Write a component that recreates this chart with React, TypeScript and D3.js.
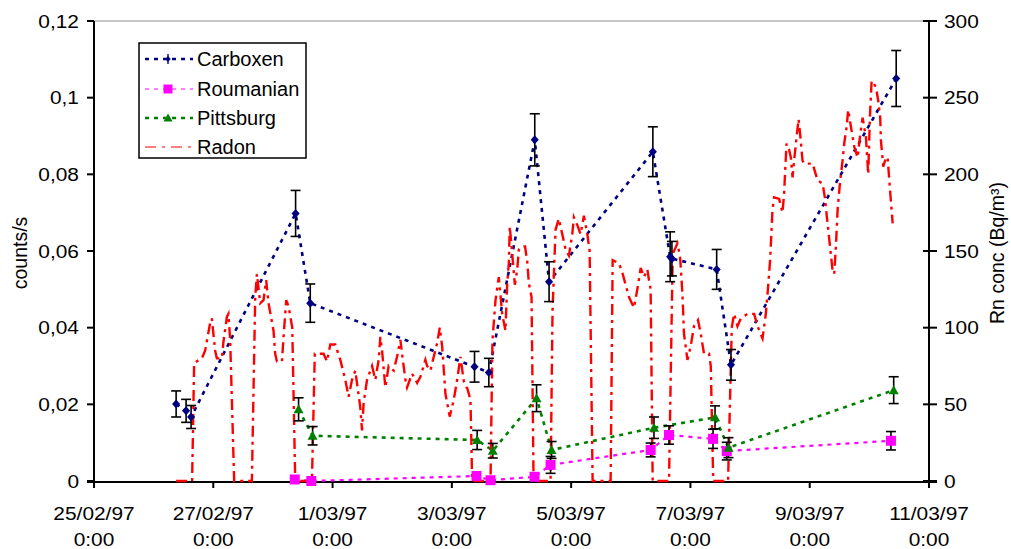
import React from "react";
import * as d3 from "d3";

// ---------- DATA ----------
// time offsets are in days since 25/02/97 0:00
const carbDay = [1.377, 1.544, 1.628, 3.38, 3.626, 6.38, 6.62, 7.39, 7.63, 9.37, 9.66, 9.69, 10.44, 10.68, 13.45];
const carbVal = [0.0201, 0.0183, 0.0167, 0.0698, 0.0464, 0.0298, 0.0283, 0.089, 0.052, 0.0859, 0.0585, 0.058, 0.0552, 0.0303, 0.105];
const carbErr = [0.0034, 0.003, 0.003, 0.006, 0.005, 0.004, 0.0037, 0.0068, 0.0052, 0.0065, 0.0065, 0.0045, 0.0052, 0.004, 0.0073];

const roumDay = [3.366, 3.643, 6.413, 6.648, 7.386, 7.655, 9.333, 9.641, 10.379, 10.609, 13.362];
const roumVal = [0.0004, 0.0, 0.0013, 0.0002, 0.0011, 0.0042, 0.0081, 0.012, 0.011, 0.0078, 0.0105];
const roumErr = [0, 0, 0, 0, 0, 0.0022, 0.0018, 0.0024, 0.0025, 0.0023, 0.0024];

const pittDay = [3.43, 3.665, 6.424, 6.686, 7.42, 7.672, 9.389, 10.413, 10.638, 13.408];
const pittVal = [0.0187, 0.0118, 0.0107, 0.0079, 0.0216, 0.0081, 0.0139, 0.0166, 0.0087, 0.0237];
const pittErr = [0.003, 0.0024, 0.0025, 0.0019, 0.0035, 0.0022, 0.0028, 0.003, 0.0026, 0.0035];

const radonDay = [
  1.377, 1.645, 1.679, 1.808, 1.863, 1.947, 1.976, 2.031, 2.06, 2.144, 2.171, 2.228, 2.254, 2.283, 2.35,
  2.647, 2.703, 2.731, 2.787, 2.842, 2.887, 2.926, 3.01, 3.038, 3.067, 3.151, 3.178, 3.223, 3.262, 3.324, 3.374,
  3.654, 3.702, 3.849, 3.906, 3.962, 4.046, 4.13, 4.213, 4.269, 4.326, 4.381, 4.465, 4.494, 4.521, 4.578, 4.662,
  4.717, 4.773, 4.801, 4.83, 4.885, 4.94, 5.024, 5.081, 5.137, 5.165, 5.221, 5.249, 5.333, 5.417, 5.473, 5.556,
  5.585, 5.64, 5.753, 5.797, 5.837, 5.892, 5.964, 6.032, 6.089, 6.144, 6.2, 6.262, 6.312, 6.34,
  6.648, 6.681, 6.732, 6.787, 6.844, 6.899, 6.928, 6.955, 6.971, 7.012, 7.056, 7.096, 7.123, 7.18, 7.227, 7.264,
  7.291, 7.336, 7.37,
  7.655, 7.688, 7.739, 7.794, 7.851, 7.907, 7.962, 8.019, 8.046, 8.103, 8.158, 8.214, 8.271, 8.31, 8.36,
  8.662, 8.696, 8.801, 8.858, 8.969, 9.053, 9.11, 9.166, 9.221, 9.278, 9.305, 9.333, 9.367,
  9.641, 9.703, 9.782, 9.826, 9.837, 9.866, 9.892, 9.95, 10.005, 10.06, 10.127, 10.173, 10.228, 10.312, 10.341, 10.382,
  10.631, 10.693, 10.732, 10.789, 10.844, 10.957, 11.068, 11.125, 11.209, 11.264, 11.293, 11.336, 11.376, 11.403,
  11.487, 11.544, 11.571, 11.611, 11.655, 11.684, 11.712, 11.739, 11.779, 11.813, 11.84, 11.879, 11.907, 12.048,
  12.132, 12.216, 12.254, 12.299, 12.343, 12.384, 12.411, 12.439, 12.468, 12.506, 12.551, 12.578, 12.619, 12.645,
  12.691, 12.747, 12.803, 12.847, 12.887, 12.943, 12.981, 13.01, 13.038, 13.11, 13.149, 13.182, 13.194, 13.233,
  13.278, 13.306, 13.35, 13.391,
];
const radonBq = [
  0, 0, 77, 80, 85, 103, 106, 85, 80, 80, 91, 107, 109, 92, 0,
  0, 120, 135, 116, 118, 131, 116, 98, 83, 78, 78, 94, 118, 114, 100, 0,
  0, 83, 83, 78, 89, 89, 79, 66, 55, 66, 72, 48, 33, 51, 66, 75,
  66, 79, 94, 85, 61, 75, 72, 81, 92, 83, 66, 61, 70, 64, 68, 79,
  75, 72, 90, 100, 88, 57, 42, 53, 66, 81, 65, 60, 53, 0,
  0, 92, 118, 133, 109, 98, 129, 142, 166, 148, 128, 138, 151, 153, 153, 143,
  129, 120, 0,
  0, 111, 164, 171, 161, 151, 147, 161, 172, 167, 161, 173, 161, 150, 0,
  0, 144, 142, 136, 120, 113, 125, 139, 133, 138, 131, 125, 0,
  0, 148, 155, 146, 140, 122, 96, 79, 88, 101, 105, 96, 83, 83, 75, 0,
  0, 100, 109, 101, 106, 109, 109, 101, 93, 109, 122, 144, 177, 185,
  184, 175, 188, 220, 216, 211, 198, 209, 224, 236, 226, 209, 207, 207,
  196, 194, 185, 168, 152, 137, 135, 153, 177, 194, 209, 220, 231, 242,
  231, 218, 211, 226, 237, 224, 200, 238, 261, 257, 248, 237, 222, 205,
  211, 211, 188, 168,
];

const xTickDays = [0, 2, 4, 6, 8, 10, 12, 14];
const leftTicks = [0, 0.02, 0.04, 0.06, 0.08, 0.1, 0.12];
const rightTicks = [0, 50, 100, 150, 200, 250, 300];
const legendNames = ["Carboxen", "Roumanian", "Pittsburg", "Radon"];

// ---------- HELPERS ----------
const BASE = Date.UTC(1997, 1, 25, 0, 0);
const toDate = (d: number) => new Date(BASE + d * 86400000);
const FONT = "'Liberation Sans', Arial, Helvetica, sans-serif";

const W = 1011;
const H = 549;
const X0 = 94;
const X1 = 929;
const YT = 21;
const YB = 481;

const x = d3.scaleUtc().domain([toDate(0), toDate(14)]).range([X0, X1]);
const yL = d3.scaleLinear().domain([0, 0.12]).range([YB, YT]);
const yR = d3.scaleLinear().domain([0, 300]).range([YB, YT]);

const commaLocale = d3.formatLocale({ decimal: ",", thousands: ".", grouping: [3], currency: ["", ""] });
const fmtLeft = commaLocale.format(".2~f");
const fmtDate = d3.utcFormat("%-d/%m/%y");
const fmtTime = d3.utcFormat("%-H:%M");

const COL_CARB = "#000080";
const COL_ROUM = "#FF00FF";
const COL_PITT = "#008000";
const COL_RAD = "#FF0000";

const diamondPath = (cx: number, cy: number, r: number) =>
  `M${cx},${cy - r}L${cx + r * 0.9},${cy}L${cx},${cy + r}L${cx - r * 0.9},${cy}Z`;
const squarePath = (cx: number, cy: number, r: number) =>
  `M${cx - r},${cy - r}H${cx + r}V${cy + r}H${cx - r}Z`;
const trianglePath = (cx: number, cy: number, r: number) =>
  `M${cx},${cy - r}L${cx + r},${cy + r * 0.8}L${cx - r},${cy + r * 0.8}Z`;

type Pt = [number, number];

function lineOf(days: number[], vals: number[], ys: d3.ScaleLinear<number, number>) {
  const pts: Pt[] = days.map((d, i) => [d, vals[i]]);
  return d3
    .line<Pt>()
    .x((p) => x(toDate(p[0])))
    .y((p) => ys(p[1]))(pts) as string;
}

function ErrorBars({ days, vals, errs }: { days: number[]; vals: number[]; errs: number[] }) {
  return (
    <g stroke="#000" strokeWidth={1.6} fill="none">
      {days.map((d, i) => {
        if (!errs[i]) return null;
        const cx = x(toDate(d));
        const y1 = yL(vals[i] + errs[i]);
        const y2 = yL(vals[i] - errs[i]);
        return (
          <g key={i}>
            <line x1={cx} x2={cx} y1={y1} y2={y2} />
            <line x1={cx - 5} x2={cx + 5} y1={y1} y2={y1} />
            <line x1={cx - 5} x2={cx + 5} y1={y2} y2={y2} />
          </g>
        );
      })}
    </g>
  );
}

export default function App() {
  const radonPath = lineOf(radonDay, radonBq, yR);
  const carbPath = lineOf(carbDay, carbVal, yL);
  const roumPath = lineOf(roumDay, roumVal, yL);
  const pittPath = lineOf(pittDay, pittVal, yL);

  const legendX = 139;
  const legendY = 43;
  const legendRows = [59, 89, 118, 147];

  return (
    <svg
      width={W}
      height={H}
      viewBox={`0 0 ${W} ${H}`}
      style={{ position: "absolute", left: 0, top: 0, background: "#fff" }}
      fontFamily={FONT}
    >
      <rect x={0} y={0} width={W} height={H} fill="#fff" />

      {/* plot top border */}
      <line x1={X0} x2={X1} y1={YT} y2={YT} stroke="#909090" strokeWidth={1.2} />

      {/* axes */}
      <g stroke="#000" strokeWidth={2}>
        <line x1={X0} x2={X0} y1={YT} y2={YB + 1} />
        <line x1={X0 - 7} x2={X1 + 8} y1={YB + 1} y2={YB + 1} />
        <line x1={X1} x2={X1} y1={YT} y2={YB + 6} />
        {leftTicks.map((t) => (
          <line key={"l" + t} x1={X0 - 7} x2={X0} y1={yL(t)} y2={yL(t)} />
        ))}
        {rightTicks.map((t) => (
          <line key={"r" + t} x1={X1 - 6} x2={X1 + 8} y1={yR(t)} y2={yR(t)} />
        ))}
        {xTickDays.map((d) => (
          <line key={"x" + d} x1={x(toDate(d))} x2={x(toDate(d))} y1={YB} y2={YB + 7} />
        ))}
      </g>

      {/* Roumanian */}
      <path d={roumPath} fill="none" stroke={COL_ROUM} strokeWidth={2.2} strokeDasharray="4,5" />
      {/* Pittsburg */}
      <path d={pittPath} fill="none" stroke={COL_PITT} strokeWidth={2.6} strokeDasharray="4,5" />
      {/* Carboxen */}
      <path d={carbPath} fill="none" stroke={COL_CARB} strokeWidth={2.6} strokeDasharray="4,5" />

      {/* Radon (secondary axis) */}
      <path d={radonPath} fill="none" stroke={COL_RAD} strokeWidth={2.4} strokeDasharray="11,5,3,5" />

      {/* error bars */}
      <ErrorBars days={carbDay} vals={carbVal} errs={carbErr} />
      <ErrorBars days={roumDay} vals={roumVal} errs={roumErr} />
      <ErrorBars days={pittDay} vals={pittVal} errs={pittErr} />

      {/* markers */}
      <g fill={COL_ROUM}>
        {roumDay.map((d, i) => (
          <path key={i} d={squarePath(x(toDate(d)), yL(roumVal[i]), 5)} />
        ))}
      </g>
      <g fill={COL_PITT}>
        {pittDay.map((d, i) => (
          <path key={i} d={trianglePath(x(toDate(d)), yL(pittVal[i]), 5)} />
        ))}
      </g>
      <g fill={COL_CARB}>
        {carbDay.map((d, i) => (
          <path key={i} d={diamondPath(x(toDate(d)), yL(carbVal[i]), 4.5)} />
        ))}
      </g>

      {/* tick labels */}
      <g fontSize={18.5} fill="#000">
        {leftTicks.map((t) => (
          <text
            key={"lt" + t}
            textAnchor="end"
            dominantBaseline="central"
            transform={`translate(79,${yL(t)}) scale(1.13,1)`}
          >
            {fmtLeft(t)}
          </text>
        ))}
        {rightTicks.map((t) => (
          <text
            key={"rt" + t}
            textAnchor="start"
            dominantBaseline="central"
            transform={`translate(944,${yR(t)}) scale(1.13,1)`}
          >
            {t}
          </text>
        ))}
        {xTickDays.map((d) => (
          <g key={"xt" + d}>
            <text textAnchor="middle" transform={`translate(${x(toDate(d))},520) scale(1.13,1)`}>
              {fmtDate(toDate(d))}
            </text>
            <text textAnchor="middle" transform={`translate(${x(toDate(d))},546) scale(1.13,1)`}>
              {fmtTime(toDate(d))}
            </text>
          </g>
        ))}
      </g>

      {/* axis titles */}
      <text
        fontSize={19.5}
        textAnchor="middle"
        dominantBaseline="central"
        transform={`translate(20,253) rotate(-90)`}
      >
        counts/s
      </text>
      <text
        fontSize={19.5}
        textAnchor="middle"
        dominantBaseline="central"
        transform={`translate(997,253) rotate(-90)`}
      >
        Rn conc (Bq/m³)
      </text>

      {/* legend */}
      <g>
        <rect x={legendX} y={legendY} width={167} height={115} fill="#fff" stroke="#000" strokeWidth={1.5} />
        {/* Carboxen */}
        <line x1={145} x2={193} y1={legendRows[0]} y2={legendRows[0]} stroke={COL_CARB} strokeWidth={2.6} strokeDasharray="4,5" />
        <path d={diamondPath(168, legendRows[0], 3)} fill={COL_CARB} />
        <line x1={168} x2={168} y1={legendRows[0] - 5} y2={legendRows[0] + 5} stroke={COL_CARB} strokeWidth={1.4} />
        {/* Roumanian */}
        <line x1={145} x2={193} y1={legendRows[1]} y2={legendRows[1]} stroke={COL_ROUM} strokeWidth={1} strokeDasharray="4,5" />
        <path d={squarePath(168, legendRows[1], 4.5)} fill={COL_ROUM} />
        {/* Pittsburg */}
        <line x1={145} x2={193} y1={legendRows[2]} y2={legendRows[2]} stroke={COL_PITT} strokeWidth={2.6} strokeDasharray="4,5" />
        <path d={trianglePath(168, legendRows[2], 4.5)} fill={COL_PITT} />
        {/* Radon */}
        <line x1={145} x2={193} y1={legendRows[3]} y2={legendRows[3]} stroke={COL_RAD} strokeWidth={1.2} strokeDasharray="11,6,3,6" />
        {legendNames.map((n, i) => (
          <text key={n} x={197} y={legendRows[i]} fontSize={20} dominantBaseline="central">
            {n}
          </text>
        ))}
      </g>
    </svg>
  );
}
